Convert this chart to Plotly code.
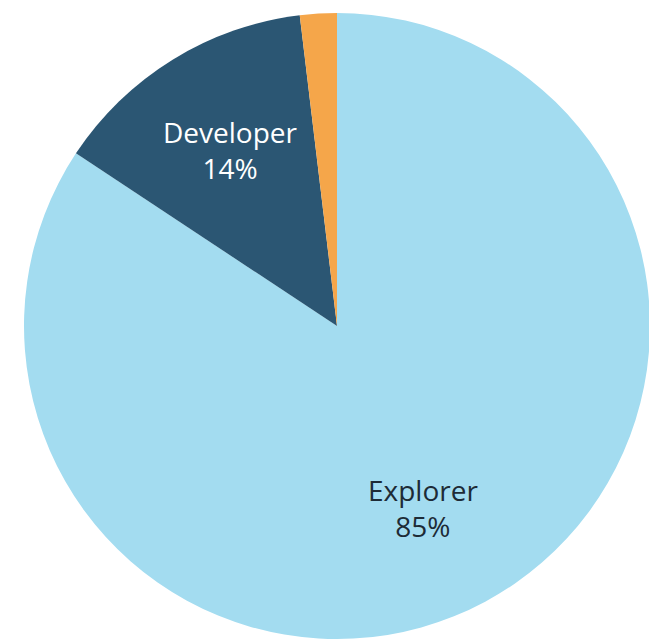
import math
import plotly.graph_objects as go

labels = ["Explorer", "Developer", "Other"]
values = [84.3, 13.8, 1.9]
shown = ["85%", "14%", ""]
colors = ["#a3dcf0", "#2b5673", "#f5a64a"]
text_colors = ["#1d2b36", "#ffffff", "#ffffff"]
label_xshift = [-12, 2, 0]

fig = go.Figure(go.Pie(
    labels=labels,
    values=values,
    sort=False,
    direction="clockwise",
    rotation=0,
    marker=dict(colors=colors, line=dict(width=0)),
    textinfo="none",
    hoverinfo="label+percent",
    showlegend=False,
))

# labels placed along each slice's mid-angle
total = sum(values)
start = 0.0
for lab, val, txt, tc, xs in zip(labels, values, shown, text_colors, label_xshift):
    span = 360.0 * val / total
    mid = math.radians(start + span / 2)
    start += span
    if not txt:
        continue
    r = 0.5 * 0.66
    fig.add_annotation(
        x=0.5 + r * math.sin(mid), y=0.5 + r * math.cos(mid),
        xref="paper", yref="paper", showarrow=False,
        xanchor="center", yanchor="middle", xshift=xs,
        text=f"{lab}<br>{txt}",
        font=dict(family="Open Sans", size=28, color=tc, weight=500),
        align="center",
    )

fig.update_layout(
    width=657, height=643,
    margin=dict(l=16, r=15, t=5, b=12),
    paper_bgcolor="white",
    plot_bgcolor="white",
)
fig.write_html("out.html")
